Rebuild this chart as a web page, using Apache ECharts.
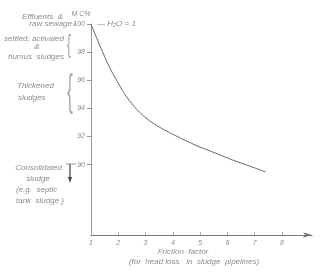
<!DOCTYPE html>
<html><head><meta charset="utf-8">
<script src="https://cdn.jsdelivr.net/npm/echarts@6/dist/echarts.min.js"></script>
<style>html,body{margin:0;padding:0;background:#fff}#c{width:320px;height:274px}</style>
</head><body><div id="c"></div>
<script>
const frictionFactor = [1.0, 1.24, 1.49, 1.73, 1.97, 2.22, 2.59, 2.96, 3.32, 3.69, 4.05, 4.42, 4.96, 5.58, 6.19, 6.80, 7.41];
const moistureContent = [100, 98.85, 97.73, 96.73, 95.9, 95.07, 94.12, 93.41, 92.89, 92.47, 92.11, 91.76, 91.28, 90.81, 90.33, 89.91, 89.48];
const xTickLabels = [1, 2, 3, 4, 5, 6, 7, 8];
const yTickLabels = [90, 92, 94, 96, 98, 100];

const txt = '#8c8c8c';
function t(x, y, s, align, size) {
  return {type: 'text', x: x, y: y, silent: true,
    style: {text: s, textAlign: align || 'left', textVerticalAlign: 'middle',
      fontFamily: 'Liberation Sans', fontStyle: 'italic', fontSize: size || 8, fill: txt}};
}
const chart = echarts.init(document.getElementById('c'), null, {renderer: 'canvas'});
chart.setOption({
  animation: false,
  grid: {left: 91, right: 8, top: 24, bottom: 39},
  xAxis: {
    type: 'value', min: 1, max: 9.1, interval: 1,
    axisLine: {lineStyle: {color: '#777', width: 1}, symbol: ['none', 'arrow'], symbolSize: [4, 9]},
    axisTick: {inside: true, length: 3, lineStyle: {color: '#aaa'}, customValues: xTickLabels},
    axisLabel: {color: txt, fontSize: 7, fontStyle: 'italic', fontFamily: 'Liberation Sans', margin: 5, customValues: xTickLabels},
    splitLine: {show: false}
  },
  yAxis: {
    type: 'value', min: 85, max: 100, interval: 1,
    axisLine: {show: true, lineStyle: {color: '#999', width: 1}},
    axisTick: {show: true, length: 4, lineStyle: {color: '#999'}, customValues: yTickLabels},
    axisLabel: {color: txt, fontSize: 7, fontStyle: 'italic', fontFamily: 'Liberation Sans', margin: 6, customValues: yTickLabels},
    splitLine: {show: false}
  },
  series: [{
    type: 'line',
    data: frictionFactor.map((x, i) => [x, moistureContent[i]]),
    smooth: 0.4, showSymbol: false,
    lineStyle: {color: '#666', width: 1}
  }],
  graphic: [
    t(81, 14, 'M C%', 'center', 7),
    t(63, 17, 'Effluents  &', 'right'),
    t(72, 24, 'raw sewage', 'right'),
    {type: 'line', shape: {x1: 73, y1: 24, x2: 76, y2: 24}, style: {stroke: '#999', lineWidth: 1}},
    t(97, 24, '— H\u2082O = 1'),
    t(64, 39, 'settled, activated', 'right'),
    t(37, 47, '&', 'center'),
    t(64, 57, 'humus  sludges', 'right'),
    {type: 'text', x: 69, y: 46, silent: true, scaleX: 0.5,
      style: {text: '{', fontSize: 26, fontFamily: 'Liberation Sans', fill: '#aaa', textAlign: 'center', textVerticalAlign: 'middle'}},
    t(17, 86, 'Thickened'),
    t(18, 98, 'sludges'),
    {type: 'text', x: 70, y: 93, silent: true, scaleX: 0.4,
      style: {text: '{', fontSize: 44, fontFamily: 'Liberation Sans', fill: '#aaa', textAlign: 'center', textVerticalAlign: 'middle'}},
    t(62, 168, 'Consolidated', 'right'),
    t(38, 179, 'sludge', 'center'),
    t(16, 190, '(e.g.  septic'),
    t(16, 201, 'tank  sludge )'),
    {type: 'line', shape: {x1: 66, y1: 164, x2: 76, y2: 164}, style: {stroke: '#999', lineWidth: 1}},
    {type: 'line', shape: {x1: 70, y1: 164, x2: 70, y2: 178}, style: {stroke: '#666', lineWidth: 1.5}},
    {type: 'polygon', shape: {points: [[68, 177], [72, 177], [70, 183]]}, style: {fill: '#444'}},
    t(183, 252, 'Friction  factor', 'center'),
    t(194, 262, '(for  head loss   in  sludge  pipelines)', 'center')
  ]
});
</script></body></html>
